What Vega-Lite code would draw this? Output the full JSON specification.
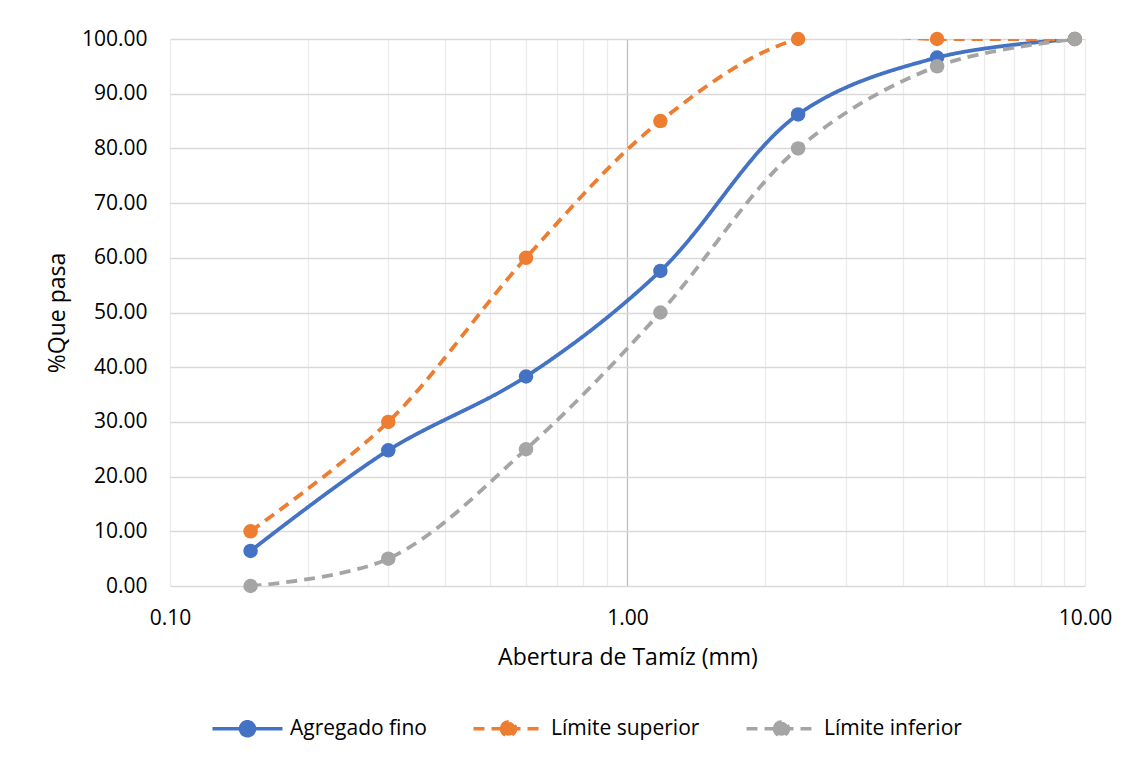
{
  "$schema": "https://vega.github.io/schema/vega-lite/v6.json",
  "autosize": {"type": "none"},
  "width": 915,
  "height": 547,
  "padding": {"left": 170, "top": 39, "right": 49, "bottom": 172},
  "background": "white",
  "config": {
    "font": "Open Sans",
    "view": {"stroke": null},
    "axis": {"labelFont": "Open Sans", "titleFont": "Open Sans", "labelFontSize": 21, "titleFontSize": 23, "labelColor": "#000000", "titleColor": "#000000", "titleFontWeight": "normal", "ticks": false, "domain": false},
    "legend": {"labelFont": "Open Sans", "labelFontSize": 21, "labelColor": "#000000"}
  },
  "data": {
    "values": [
      {"abertura": 0.15, "pasa": 6.4, "serie": "Agregado fino"},
      {"abertura": 0.3, "pasa": 24.8, "serie": "Agregado fino"},
      {"abertura": 0.6, "pasa": 38.3, "serie": "Agregado fino"},
      {"abertura": 1.18, "pasa": 57.6, "serie": "Agregado fino"},
      {"abertura": 2.36, "pasa": 86.2, "serie": "Agregado fino"},
      {"abertura": 4.75, "pasa": 96.6, "serie": "Agregado fino"},
      {"abertura": 9.5, "pasa": 100, "serie": "Agregado fino"},
      {"abertura": 0.15, "pasa": 10, "serie": "Límite superior"},
      {"abertura": 0.3, "pasa": 30, "serie": "Límite superior"},
      {"abertura": 0.6, "pasa": 60, "serie": "Límite superior"},
      {"abertura": 1.18, "pasa": 85, "serie": "Límite superior"},
      {"abertura": 2.36, "pasa": 100, "serie": "Límite superior"},
      {"abertura": 4.75, "pasa": 100, "serie": "Límite superior"},
      {"abertura": 9.5, "pasa": 100, "serie": "Límite superior"},
      {"abertura": 0.15, "pasa": 0, "serie": "Límite inferior"},
      {"abertura": 0.3, "pasa": 5, "serie": "Límite inferior"},
      {"abertura": 0.6, "pasa": 25, "serie": "Límite inferior"},
      {"abertura": 1.18, "pasa": 50, "serie": "Límite inferior"},
      {"abertura": 2.36, "pasa": 80, "serie": "Límite inferior"},
      {"abertura": 4.75, "pasa": 95, "serie": "Límite inferior"},
      {"abertura": 9.5, "pasa": 100, "serie": "Límite inferior"}
    ]
  },
  "encoding": {
    "x": {
      "field": "abertura", "type": "quantitative",
      "scale": {"type": "log", "domain": [0.1, 10], "nice": false},
      "axis": {
        "title": "Abertura de Tamíz (mm)",
        "values": [0.1, 0.2, 0.3, 0.4, 0.5, 0.6, 0.7, 0.8, 0.9, 1, 2, 3, 4, 5, 6, 7, 8, 9, 10],
        "labelExpr": "(datum.value == 0.1 || datum.value == 1 || datum.value == 10) ? format(datum.value, '.2f') : ''",
        "labelOverlap": false,
        "labelBound": false,
        "labelFlush": false,
        "labelPadding": 21,
        "titlePadding": 18,
        "grid": true,
        "gridColor": {"condition": {"test": "datum.value == 1", "value": "#bfbfbf"}, "value": "#ececec"},
        "gridWidth": 1.3
      }
    },
    "y": {
      "field": "pasa", "type": "quantitative",
      "scale": {"domain": [0, 100], "nice": false},
      "axis": {
        "title": "%Que pasa",
        "values": [0, 10, 20, 30, 40, 50, 60, 70, 80, 90, 100],
        "format": ".2f",
        "labelPadding": 23,
        "titlePadding": 12,
        "grid": true,
        "gridColor": "#d9d9d9",
        "gridWidth": 1.3
      }
    },
    "color": {
      "field": "serie", "type": "nominal",
      "scale": {"domain": ["Agregado fino", "Límite superior", "Límite inferior"], "range": ["#4472C4", "#ED7D31", "#A5A5A5"]},
      "legend": {
        "title": null,
        "orient": "none",
        "legendX": 67,
        "legendY": 679,
        "direction": "horizontal",
        "symbolType": "M-5,0H5M-1,0A1,1 0 1,1 1,0A1,1 0 1,1 -1,0Z",
        "symbolSize": 196,
        "symbolStrokeWidth": 3.5,
        "labelOffset": 32,
        "columnPadding": 39,
        "encode": {"symbols": {"update": {"fill": {"scale": "color", "field": "value"}, "stroke": {"scale": "color", "field": "value"}}}}
      }
    },
    "strokeDash": {
      "field": "serie", "type": "nominal",
      "scale": {"domain": ["Agregado fino", "Límite superior", "Límite inferior"], "range": [[1, 0], [11, 7], [11, 7]]},
      "legend": null
    }
  },
  "layer": [
    {
      "mark": {"type": "line", "interpolate": "catmull-rom", "strokeWidth": 3.8, "clip": true}
    },
    {
      "mark": {"type": "point", "filled": true, "size": 210, "opacity": 1, "shape": "circle"},
      "encoding": {"strokeDash": {"value": [1, 0]}}
    }
  ]
}
